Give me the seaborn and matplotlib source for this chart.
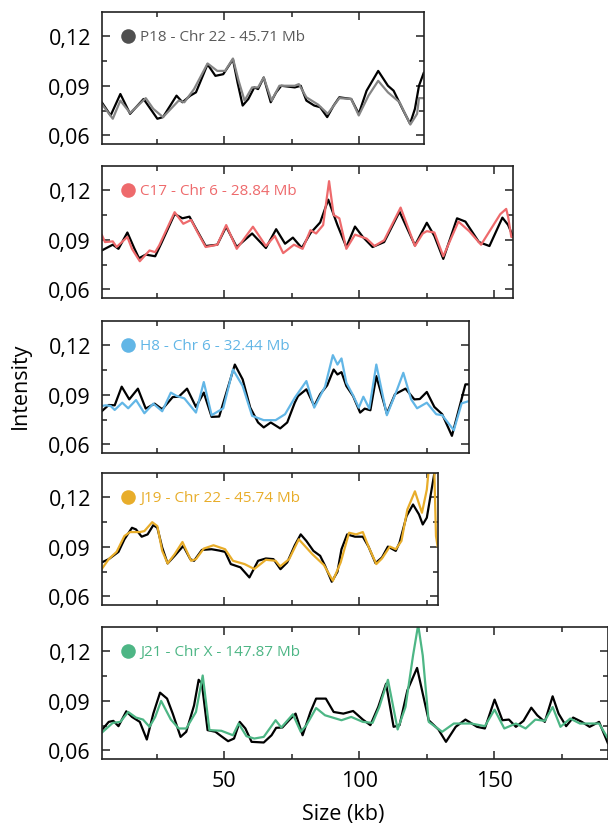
import seaborn as sns
import matplotlib.pyplot as plt
from matplotlib.ticker import MultipleLocator, FuncFormatter

# values (x in kb, y = intensity)
labels = ["P18 - Chr 22 - 45.71 Mb", "C17 - Chr 6 - 28.84 Mb", "H8 - Chr 6 - 32.44 Mb",
          "J19 - Chr 22 - 45.74 Mb", "J21 - Chr X - 147.87 Mb"]
line_colors = ["#858585", "#ee6a6c", "#62b6e6", "#e8ad2a", "#4db685"]
dot_colors = ["#505050", "#ee6a6c", "#62b6e6", "#e8ad2a", "#4db685"]
text_colors = ["#5a5a5a", "#ee6a6c", "#62b6e6", "#e8ad2a", "#4db685"]
x_max = [124.0, 157.0, 140.7, 129.3, 192.1]

# P18
p18_black_x = [4.6, 7.9, 11.5, 15.1, 20.1, 25.2, 27.3, 32.3, 34.5, 37.4, 39.5, 43.8, 46.7, 49.6, 53.2, 54.9,
               56.8, 58.9, 61.1, 62.5, 64.6, 67.2, 69.2, 71.1, 76.1, 78.3, 80.4, 83.3, 85.5, 88.1, 90.5, 92.6,
               97.0, 99.8, 102.7, 107.0, 110.6, 112.7, 116.3, 118.8, 120.6, 122.1, 123.9]
p18_black_y = [0.080, 0.072, 0.085, 0.073, 0.082, 0.070, 0.071, 0.084, 0.080, 0.084, 0.086, 0.103, 0.096, 0.097,
               0.106, 0.092, 0.078, 0.082, 0.089, 0.088, 0.095, 0.080, 0.086, 0.090, 0.089, 0.090, 0.081, 0.078,
               0.077, 0.071, 0.078, 0.083, 0.082, 0.073, 0.087, 0.099, 0.090, 0.087, 0.075, 0.067, 0.076, 0.090,
               0.098]
p18_col_x = [4.6, 8.7, 11.5, 15.1, 20.9, 23.7, 27.3, 33.1, 35.2, 38.8, 43.8, 47.4, 50.3, 53.2, 55.3, 57.5, 60.3,
             62.5, 64.6, 67.5, 70.4, 76.1, 77.6, 80.4, 84.8, 88.3, 92.6, 97.0, 99.8, 103.4, 107.0, 110.6, 114.9,
             118.9, 121.4, 122.1, 123.9]
p18_col_y = [0.079, 0.070, 0.081, 0.0735, 0.0825, 0.076, 0.071, 0.081, 0.080, 0.088, 0.1035, 0.099, 0.099,
             0.1065, 0.093, 0.081, 0.089, 0.089, 0.095, 0.081, 0.090, 0.090, 0.091, 0.083, 0.0785, 0.073, 0.0825,
             0.082, 0.072, 0.084, 0.093, 0.086, 0.080, 0.0665, 0.073, 0.0825, 0.0825]

# C17
c17_black_x = [4.6, 8.7, 10.8, 14.1, 16.6, 18.4, 20.9, 24.4, 26.6, 31.6, 34.5, 37.1, 39.5, 43.1, 47.4, 50.7,
               54.6, 60.3, 65.4, 69.2, 72.5, 75.4, 78.7, 81.9, 85.5, 88.5, 91.9, 95.2, 98.4, 101.3, 104.9, 109.2,
               114.9, 120.6, 125.0, 127.8, 131.1, 136.2, 139.3, 144.3, 148.2, 153.0, 155.1, 157.0]
c17_black_y = [0.0835, 0.087, 0.0845, 0.0944, 0.085, 0.0788, 0.081, 0.080, 0.0876, 0.1056, 0.103, 0.104, 0.0968,
               0.0862, 0.087, 0.0979, 0.0856, 0.0938, 0.085, 0.0964, 0.0876, 0.0913, 0.085, 0.094, 0.1005, 0.1143,
               0.0989, 0.0856, 0.098, 0.0917, 0.0856, 0.0886, 0.107, 0.0866, 0.1003, 0.0923, 0.0784, 0.103, 0.101,
               0.0886, 0.0862, 0.1034, 0.099, 0.0917]
c17_col_x = [4.6, 5.8, 8.7, 10.1, 14.1, 15.8, 18.7, 22.3, 24.4, 25.9, 31.6, 34.8, 37.7, 40.0, 43.1, 47.4, 50.7,
             54.6, 60.6, 65.4, 68.7, 71.8, 75.8, 79.0, 81.9, 84.0, 86.6, 88.8, 90.5, 92.6, 95.2, 98.4, 102.7, 105.6,
             109.2, 115.3, 120.6, 123.5, 125.0, 127.8, 131.1, 136.7, 140.7, 145.1, 152.2, 154.4, 155.1, 156.3, 157.0]
c17_col_y = [0.0931, 0.0886, 0.089, 0.0856, 0.0917, 0.0845, 0.077, 0.0835, 0.0825, 0.0866, 0.1067, 0.0997,
             0.102, 0.0948, 0.0856, 0.087, 0.0989, 0.0845, 0.0979, 0.0862, 0.0923, 0.0819, 0.087, 0.0845, 0.0958,
             0.0938, 0.0989, 0.1255, 0.105, 0.103, 0.0845, 0.0931, 0.0907, 0.0862, 0.0897, 0.1095, 0.0862, 0.0938,
             0.0952, 0.0944, 0.080, 0.101, 0.0952, 0.087, 0.1055, 0.1087, 0.104, 0.0917, 0.0917]

# H8
h8_black_x = [4.6, 7.2, 9.4, 12.0, 14.8, 18.0, 20.9, 24.2, 27.0, 30.9, 33.1, 36.2, 39.5, 42.4, 45.3, 48.1, 53.9,
              56.8, 59.6, 62.5, 64.6, 67.2, 70.7, 73.3, 76.1, 77.3, 80.4, 83.3, 85.5, 88.1, 90.5, 91.9, 93.4, 95.2,
              97.7, 100.3, 102.0, 104.1, 106.3, 110.2, 113.2, 117.1, 120.4, 122.4, 125.0, 127.8, 130.7, 134.3,
              137.2, 139.3, 140.7]
h8_black_y = [0.080, 0.0838, 0.0836, 0.0949, 0.0872, 0.0937, 0.0816, 0.0846, 0.0812, 0.0886, 0.0888, 0.0937,
              0.0826, 0.0913, 0.0766, 0.0768, 0.1083, 0.0993, 0.0822, 0.0732, 0.0702, 0.0732, 0.0696, 0.0732,
              0.0852, 0.0892, 0.0933, 0.0832, 0.0903, 0.0957, 0.1053, 0.1023, 0.1037, 0.0953, 0.0892, 0.0792,
              0.0816, 0.0806, 0.1013, 0.0786, 0.0903, 0.0937, 0.0872, 0.0874, 0.0917, 0.0826, 0.0782, 0.0651,
              0.0832, 0.0963, 0.0963]
h8_col_x = [4.6, 6.1, 7.9, 9.4, 12.2, 14.4, 17.3, 20.4, 23.7, 27.0, 30.2, 32.3, 35.2, 39.5, 42.4, 45.3, 49.6,
            53.2, 56.8, 60.3, 64.6, 69.0, 72.5, 76.1, 80.4, 83.3, 87.3, 90.2, 91.9, 93.4, 95.2, 97.7, 99.8, 101.5,
            103.7, 106.3, 110.2, 113.8, 116.3, 119.2, 121.4, 125.0, 128.5, 130.7, 135.0, 137.9, 140.7]
h8_col_y = [0.0832, 0.0836, 0.0832, 0.0808, 0.0852, 0.0818, 0.0868, 0.0788, 0.0846, 0.080, 0.0913, 0.0893,
            0.0878, 0.0792, 0.0977, 0.0776, 0.0818, 0.1053, 0.0953, 0.0772, 0.0746, 0.0746, 0.0782, 0.0882,
            0.0983, 0.0822, 0.0949, 0.114, 0.1083, 0.112, 0.0973, 0.0896, 0.0822, 0.0888, 0.0816, 0.1083, 0.0776,
            0.0923, 0.1033, 0.0872, 0.0818, 0.0852, 0.0782, 0.0776, 0.0685, 0.0848, 0.0862]

# J19
j19_black_x = [4.6, 7.2, 10.8, 13.0, 15.8, 17.3, 19.4, 21.6, 23.7, 25.2, 27.0, 29.0, 31.6, 34.8, 37.4, 38.8,
               41.7, 45.3, 48.1, 50.3, 52.4, 56.0, 59.3, 62.5, 65.4, 68.2, 70.8, 73.3, 76.1, 78.3, 80.4, 83.0, 85.5,
               87.3, 89.8, 91.9, 93.4, 95.5, 98.4, 101.3, 103.4, 106.0, 108.4, 110.6, 113.5, 114.9, 117.5, 119.9,
               122.1, 123.5, 125.0, 127.8, 128.4]
j19_black_y = [0.0805, 0.0825, 0.0869, 0.0945, 0.1015, 0.1005, 0.0961, 0.0975, 0.1031, 0.1015, 0.0895, 0.0799,
               0.0845, 0.0905, 0.0825, 0.0815, 0.0881, 0.0885, 0.0877, 0.0869, 0.0795, 0.0775, 0.0714, 0.0815,
               0.0829, 0.0825, 0.0764, 0.0805, 0.0909, 0.0975, 0.0935, 0.0875, 0.0845, 0.0785, 0.0688, 0.0748,
               0.0885, 0.0975, 0.0961, 0.0961, 0.0901, 0.0801, 0.0835, 0.0901, 0.0875, 0.0925, 0.1086, 0.1156,
               0.1096, 0.1035, 0.1076, 0.1346, 0.140]
j19_col_x = [4.6, 7.2, 10.1, 13.0, 15.1, 18.7, 20.4, 23.3, 25.2, 27.0, 29.0, 31.6, 34.5, 37.7, 39.5, 42.4, 46.0,
             50.3, 53.2, 57.5, 61.1, 65.4, 69.0, 70.7, 74.0, 77.6, 82.6, 86.9, 90.2, 93.1, 96.2, 98.8, 101.3,
             103.4, 106.3, 108.4, 111.3, 113.5, 115.6, 117.8, 120.6, 123.2, 125.0, 125.7, 127.1, 127.8, 128.4,
             129.0, 129.3]
j19_col_y = [0.0765, 0.0825, 0.0869, 0.0965, 0.0989, 0.0989, 0.0995, 0.1049, 0.1025, 0.0875, 0.0799, 0.0855,
             0.0929, 0.0815, 0.0825, 0.0889, 0.0909, 0.0885, 0.0815, 0.0795, 0.0765, 0.0821, 0.0815, 0.0781,
             0.0825, 0.0945, 0.0855, 0.0789, 0.0694, 0.0805, 0.0985, 0.0975, 0.0989, 0.0901, 0.0795, 0.0829,
             0.0901, 0.0885, 0.0935, 0.1126, 0.1236, 0.1106, 0.1246, 0.1367, 0.1367, 0.1347, 0.0965, 0.0901,
             0.0901]

# J21
j21_black_x = [4.6, 7.2, 8.9, 10.8, 13.7, 15.8, 18.7, 21.3, 23.7, 26.2, 28.8, 30.9, 33.8, 35.9, 38.8, 40.5,
               41.7, 43.8, 46.7, 48.9, 51.4, 53.6, 55.7, 57.8, 60.1, 64.6, 67.5, 69.2, 71.5, 74.0, 76.4, 79.0, 81.9,
               84.0, 87.6, 90.5, 94.1, 97.7, 101.3, 104.1, 107.0, 109.9, 112.7, 114.9, 117.8, 121.4, 123.5, 125.7,
               129.3, 132.1, 135.7, 139.3, 143.6, 146.5, 150.1, 153.0, 155.4, 158.0, 160.8, 163.7, 165.9, 168.7,
               171.6, 173.8, 176.6, 179.2, 182.4, 185.3, 188.8, 192.1]
j21_black_y = [0.0722, 0.0772, 0.0778, 0.0746, 0.0836, 0.0802, 0.0772, 0.0665, 0.0822, 0.0949, 0.0913, 0.0822,
               0.0681, 0.0712, 0.0872, 0.1027, 0.1003, 0.0722, 0.0712, 0.0685, 0.0655, 0.0671, 0.0772, 0.0732,
               0.0651, 0.0647, 0.0691, 0.0736, 0.0738, 0.0782, 0.0822, 0.0691, 0.0832, 0.0913, 0.0913, 0.0832,
               0.0822, 0.0838, 0.0786, 0.0752, 0.0862, 0.1003, 0.0742, 0.0752, 0.0963, 0.1099, 0.0943, 0.0782,
               0.0726, 0.0651, 0.0742, 0.0786, 0.0742, 0.0732, 0.0907, 0.0782, 0.0786, 0.0742, 0.0778, 0.0858,
               0.0812, 0.0772, 0.0927, 0.0822, 0.0746, 0.0798, 0.0772, 0.0742, 0.0772, 0.0641]
j21_col_x = [4.6, 8.7, 11.5, 14.4, 17.3, 19.9, 22.3, 24.4, 26.6, 30.2, 33.1, 35.9, 39.5, 42.0, 44.5, 48.9, 53.2,
             55.3, 58.2, 61.1, 64.6, 69.0, 71.1, 75.4, 78.3, 80.4, 84.0, 87.3, 93.4, 97.0, 101.3, 104.9, 107.4,
             110.6, 114.2, 117.1, 119.9, 121.8, 123.5, 125.7, 130.7, 135.0, 141.5, 146.5, 150.1, 153.7, 158.0,
             161.6, 165.2, 168.7, 171.6, 174.5, 178.1, 181.7, 185.3, 188.8, 192.1]
j21_col_y = [0.0706, 0.0766, 0.0772, 0.0832, 0.0798, 0.0786, 0.0742, 0.0802, 0.0899, 0.0786, 0.0732, 0.0732,
             0.0832, 0.1053, 0.0722, 0.0718, 0.0691, 0.0762, 0.0685, 0.0671, 0.0681, 0.0782, 0.0738, 0.0818,
             0.0712, 0.0752, 0.0856, 0.0812, 0.0782, 0.0802, 0.0772, 0.0766, 0.0862, 0.1027, 0.0726, 0.0862,
             0.1174, 0.136, 0.1174, 0.0772, 0.0712, 0.0762, 0.0762, 0.0746, 0.0846, 0.0732, 0.0762, 0.0732,
             0.0786, 0.0778, 0.0862, 0.0742, 0.0792, 0.0762, 0.0762, 0.0762, 0.0671]

black_x = [p18_black_x, c17_black_x, h8_black_x, j19_black_x, j21_black_x]
black_y = [p18_black_y, c17_black_y, h8_black_y, j19_black_y, j21_black_y]
col_x = [p18_col_x, c17_col_x, h8_col_x, j19_col_x, j21_col_x]
col_y = [p18_col_y, c17_col_y, h8_col_y, j19_col_y, j21_col_y]

sns.set_style("ticks")
plt.rcParams['font.family'] = ['Open Sans', 'DejaVu Sans']
plt.rcParams['text.color'] = 'black'
plt.rcParams['xtick.color'] = '#222222'
plt.rcParams['ytick.color'] = '#222222'
plt.rcParams['xtick.labelcolor'] = 'black'
plt.rcParams['ytick.labelcolor'] = 'black'

W, H = 608, 828
fig = plt.figure(figsize=(W / 100, H / 100), dpi=100)

left_px = 102
x0 = 4.7
px_per_kb = 2.70
tops = [13, 167, 322, 474, 628]
panel_h = 132

for i in range(5):
    width_px = (x_max[i] - x0) * px_per_kb
    ax = fig.add_axes([left_px / W, 1 - (tops[i] + panel_h) / H, width_px / W, panel_h / H])
    sns.lineplot(x=black_x[i], y=black_y[i], ax=ax, color="black", linewidth=1.6,
                 solid_joinstyle="round")
    sns.lineplot(x=col_x[i], y=col_y[i], ax=ax, color=line_colors[i], linewidth=1.6,
                 solid_joinstyle="round")
    ax.set_xlim(x0, x_max[i])
    ax.set_ylim(0.0547, 0.1347)
    ax.yaxis.set_major_locator(MultipleLocator(0.03))
    ax.yaxis.set_minor_locator(MultipleLocator(0.015))
    ax.xaxis.set_major_locator(MultipleLocator(50))
    ax.xaxis.set_minor_locator(MultipleLocator(25))
    ax.yaxis.set_major_formatter(FuncFormatter(lambda v, p: f"{v:.2f}".replace(".", ",")))
    ax.tick_params(which="both", direction="in", top=True, right=True, width=1.1)
    ax.tick_params(which="major", length=6, labelsize=15.5, pad=8)
    ax.tick_params(which="minor", length=3.8)
    for s in ax.spines.values():
        s.set_linewidth(1.2)
        s.set_color("#222222")
    ax.set_xlabel("")
    ax.set_ylabel("")
    if i < 4:
        ax.tick_params(labelbottom=False)
    # label with coloured dot
    ax.scatter([14.4], [0.12], s=110, color=dot_colors[i], zorder=5, linewidths=0)
    ax.text(18.9, 0.12, labels[i], color=text_colors[i], fontsize=11, va="center", ha="left")

fig.text(20 / W, 1 - 386 / H, "Intensity", rotation=90, fontsize=15.5, ha="center", va="center")
fig.text(343 / W, 1 - 815 / H, "Size (kb)", fontsize=15.5, ha="center", va="center")

fig.savefig("out.png", dpi=100)
